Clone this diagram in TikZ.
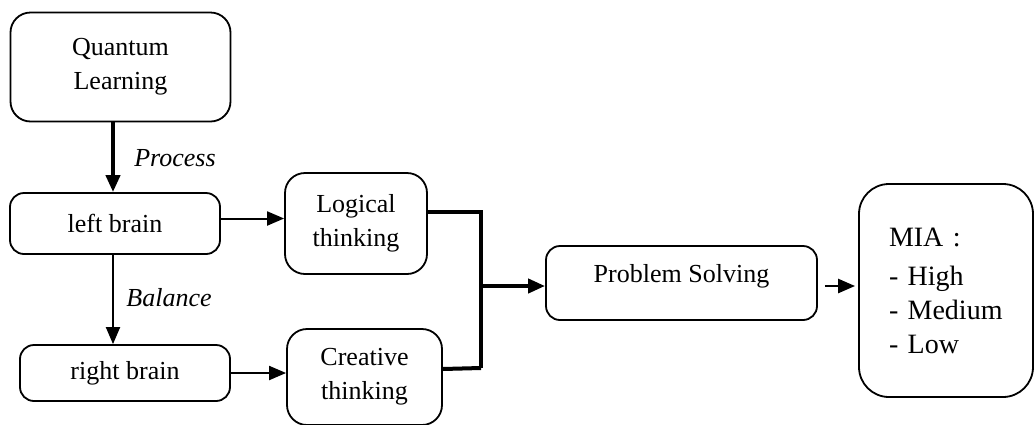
\documentclass[tikz,border=0pt]{standalone}
\usepackage{fontspec}
\setmainfont{Liberation Serif}
\usetikzlibrary{arrows.meta, calc}

\tikzset{
	box/.style={draw, line width=1.8pt, rounded corners=14pt, align=center, inner sep=0pt},
	tip/.style={-{Triangle[length=17pt, width=14pt]}},
	flow/.style={line width=2pt, tip},
	bold/.style={line width=4pt},
}

\begin{document}
\begin{tikzpicture}[x=1pt, y=-1pt, font=\fontsize{26}{34}\selectfont]
	\useasboundingbox (0,0) rectangle (1034,424);

	\node[box, rounded corners=20pt, minimum width=220pt, minimum height=109pt] (QL) at (120.5,67) {Quantum\\Learning};
	\node[box, minimum width=210pt, minimum height=61pt] (LB) at (115,223.5) {left brain};
	\node[box, minimum width=210pt, minimum height=56pt] (RB) at (125,373) {right brain};
	\node[box, rounded corners=20pt, minimum width=142pt, minimum height=101pt] (LT) at (356,223.5) {Logical\\thinking};
	\node[box, rounded corners=20pt, minimum width=155pt, minimum height=96pt] (CT) at (364.5,377) {Creative\\thinking};
	\node[box, minimum width=271pt, minimum height=74pt, text height=18pt, text depth=20pt] (PS) at (681.5,283) {Problem Solving};
	\node[box, rounded corners=30pt, minimum width=174pt, minimum height=213pt, inner xsep=30pt, text width=114pt, align=left,
		font=\fontsize{28}{34}\selectfont] (MIA) at (946,290.5) {MIA :\\[5pt]- High\\- Medium\\- Low};

	\coordinate (p) at (113,0);
	\coordinate (top) at (481,212);
	\coordinate (bot) at (481,368);
	\coordinate (J) at (481,286);

	\draw[bold, tip] (QL.south -| p) -- (LB.north -| p);
	\node (proc) at (175,158) {\textit{Process}};
	\draw[flow] (LB.south -| p) -- (RB.north -| p);
	\node (bal) at (169,298) {\textit{Balance}};

	\draw[flow] ([yshift=5pt]LB.east) -- ([yshift=5pt]LB.east -| LT.west);
	\draw[flow] (RB.east) -- (RB.east -| CT.west);

	\draw[bold] ([yshift=11.5pt]LT.east) -- (top) -- (bot);
	\draw[bold] ([yshift=8pt]CT.east) -- (bot);
	\draw[bold, tip] (J) -- (J -| PS.west);
	\draw[flow, line width=2.5pt] ([xshift=7pt]J -| PS.east) -- ([xshift=-3pt]J -| MIA.west);

\end{tikzpicture}
\end{document}
